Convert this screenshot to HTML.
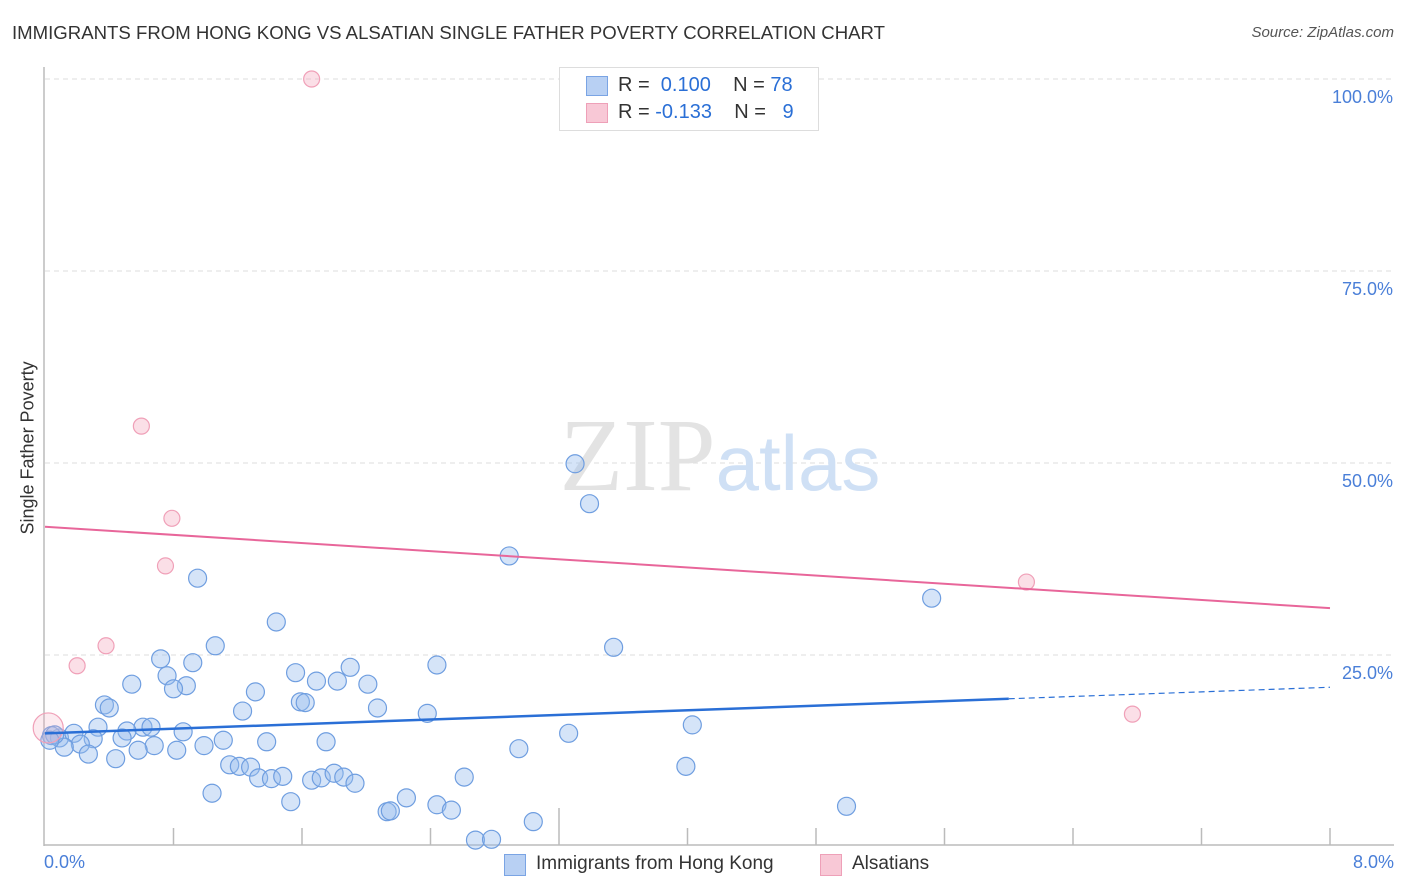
<!DOCTYPE html>
<html><head><meta charset="utf-8"><style>
body{margin:0;background:#fff;font-family:"Liberation Sans",sans-serif;}
#wrap{position:relative;width:1406px;height:892px;overflow:hidden;}
.t{position:absolute;white-space:nowrap;}
</style></head><body>
<div id="wrap">
<div class="t" style="left:12px;top:22px;font-size:18.6px;color:#333;">IMMIGRANTS FROM HONG KONG VS ALSATIAN SINGLE FATHER POVERTY CORRELATION CHART</div>
<div class="t" style="right:12px;top:24px;font-size:15px;color:#555;font-style:italic;">Source: ZipAtlas.com</div>
<svg id="svg" width="1406" height="892" style="position:absolute;left:0;top:0"></svg>
</div>
<script>
const blueX=[3.30,3.39,2.89,0.95,5.52,1.44,3.54,1.06,0.72,0.92,2.44,1.90,1.56,0.76,0.54,1.69,1.82,0.88,2.01,0.80,1.31,0.37,0.40,1.59,1.62,2.07,1.23,2.38,0.33,0.61,0.66,0.51,0.86,4.03,3.26,0.48,0.09,0.04,0.18,0.30,0.22,1.38,1.75,1.11,0.68,0.99,2.95,0.12,0.27,0.58,0.82,0.44,1.15,1.21,1.28,3.99,1.33,1.41,1.48,1.66,1.72,1.80,1.86,1.93,2.61,1.04,2.25,1.53,2.44,2.53,4.99,2.13,2.15,3.04,2.68,2.78,0.06,0.03];
const blueY=[49.9,44.7,37.9,35.0,32.4,29.3,26.0,26.2,24.5,24.0,23.7,23.4,22.7,22.3,21.2,21.6,21.6,21.0,21.2,20.6,20.2,18.5,18.1,18.9,18.8,18.1,17.7,17.4,15.6,15.6,15.6,15.1,15.0,15.9,14.8,14.2,14.2,14.5,14.8,14.1,13.4,13.7,13.7,13.9,13.2,13.2,12.8,13.0,12.1,12.6,12.6,11.5,10.7,10.5,10.4,10.5,9.0,8.9,9.2,8.7,9.0,9.6,9.1,8.3,9.1,7.0,6.4,5.9,5.5,4.8,5.3,4.6,4.7,3.3,0.9,1.0,14.6,13.9];
const pinkX=[1.66,0.60,0.79,0.75,0.38,0.20,6.11,6.77,0.02];
const pinkY=[100,54.8,42.8,36.6,26.2,23.6,34.5,17.3,15.5];
const yTicks=[100,75,50,25];
const yTickLabels=["100.0%","75.0%","50.0%","25.0%"];
const blueTrend=[14.8,20.8];
const pinkTrend=[41.7,31.1];
const blueSolidEnd=6.0;

const X=v=>45+v/8*1285, Y=v=>847-v/100*768;
const svg=document.getElementById('svg');
const NS='http://www.w3.org/2000/svg';
function mk(tag,attrs,parent){const e=document.createElementNS(NS,tag);for(const k in attrs)e.setAttribute(k,attrs[k]);(parent||svg).appendChild(e);return e;}
yTicks.forEach((t,i)=>{
 const g=mk('line',{x1:45,x2:1394,y1:Y(t),y2:Y(t),stroke:'#ddd','stroke-dasharray':'5,4'});
 
 
 const tx=mk('text',{x:1393,y:Y(t)+24,'text-anchor':'end','font-size':18,fill:'#4a7fd8','font-family':'Liberation Sans'});
 tx.textContent=yTickLabels[i];
 
 
});
const ax=mk('line',{x1:44,x2:44,y1:67,y2:846,stroke:'#bbb','stroke-width':1.5});


const bx=mk('line',{x1:44,x2:1394,y1:845,y2:845,stroke:'#bbb','stroke-width':1.5});


for(let k=1;k<=10;k++){const xx=45+k*128.5;const tk=mk('line',{x1:xx,x2:xx,y1:(k==4?808:828),y2:845,stroke:'#bbb','stroke-width':1.5});
 
 }
const wm=mk('text',{x:720,y:490,'text-anchor':'middle','font-size':104});


wm.innerHTML='<tspan font-family="Liberation Serif" fill="#e3e3e3">ZIP</tspan><tspan font-family="Liberation Sans" fill="#cfe0f5" font-size="78">atlas</tspan>';
blueX.forEach((v,i)=>{const c=mk('circle',{cx:X(v),cy:Y(blueY[i]),r:9,fill:'rgba(150,188,238,0.4)',stroke:'#6f9ee0','stroke-width':1.2});
 
 });
pinkX.forEach((v,i)=>{const big=i==pinkX.length-1;const c=mk('circle',{cx:X(v),cy:Y(pinkY[i]),r:big?15:8,fill:big?'rgba(245,175,195,0.25)':'rgba(245,175,195,0.4)',stroke:'#f0a0b8','stroke-width':1.2});
 
 });
const bAt=x=>blueTrend[0]+(blueTrend[1]-blueTrend[0])*x/8;
const l1=mk('line',{x1:X(0),y1:Y(bAt(0)),x2:X(blueSolidEnd),y2:Y(bAt(blueSolidEnd)),stroke:'#2a6fd6','stroke-width':2.5});


const l2=mk('line',{x1:X(blueSolidEnd),y1:Y(bAt(blueSolidEnd)),x2:X(8),y2:Y(bAt(8)),stroke:'#2a6fd6','stroke-width':1.2,'stroke-dasharray':'6,4'});


const l3=mk('line',{x1:X(0),y1:Y(pinkTrend[0]),x2:X(8),y2:Y(pinkTrend[1]),stroke:'#e8669a','stroke-width':2});


</script>
<div class="t" style="left:44px;top:852px;font-size:18px;color:#4a7fd8;">0.0%</div>
<div class="t" style="right:12px;top:852px;font-size:18px;color:#4a7fd8;">8.0%</div>
<div class="t" style="left:-52px;top:444px;font-size:18px;color:#333;transform:rotate(-90deg);width:160px;text-align:center;">Single Father Poverty</div>
<div style="position:absolute;left:559px;top:67px;width:258px;height:62px;border:1px solid #ddd;background:#fff;font-size:20px;color:#333;">
 <div style="position:absolute;left:26px;top:8px;width:20px;height:18px;background:#b8d0f3;border:1px solid #7aa4e4;"></div>
 <div class="t" style="left:58px;top:6px;">R = <span style="color:#2a6fd6">&nbsp;0.100</span>&nbsp;&nbsp;&nbsp; N = <span style="color:#2a6fd6">78</span></div>
 <div style="position:absolute;left:26px;top:35px;width:20px;height:18px;background:#f8c8d6;border:1px solid #eea0b8;"></div>
 <div class="t" style="left:58px;top:33px;">R = <span style="color:#2a6fd6">-0.133</span>&nbsp;&nbsp;&nbsp; N = &nbsp;&nbsp;<span style="color:#2a6fd6">9</span></div>
</div>
<div style="position:absolute;left:504px;top:852px;font-size:19px;color:#333;">
 <div style="position:absolute;left:0;top:2px;width:20px;height:20px;background:#b8d0f3;border:1px solid #7aa4e4;"></div>
 <div class="t" style="left:32px;top:1px;">Immigrants from Hong Kong</div>
 <div style="position:absolute;left:316px;top:2px;width:20px;height:20px;background:#f8c8d6;border:1px solid #eea0b8;"></div>
 <div class="t" style="left:348px;top:1px;">Alsatians</div>
</div>
</body></html>
